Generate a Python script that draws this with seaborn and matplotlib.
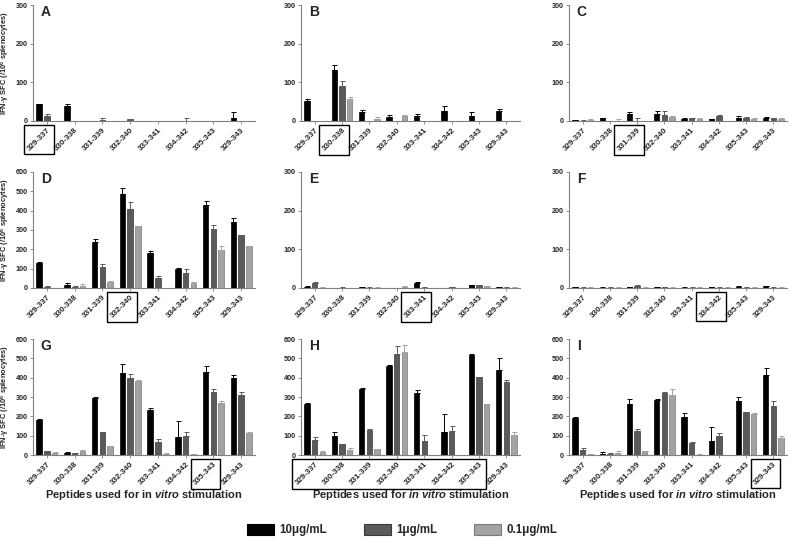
import numpy as np
import pandas as pd
import matplotlib
matplotlib.use("Agg")
import matplotlib.pyplot as plt
from matplotlib.patches import Patch, Rectangle
from matplotlib.transforms import Bbox
import seaborn as sns

peptides = ["329-337", "330-338", "331-339", "332-340", "333-341", "334-342", "335-343", "329-343"]
concs = ["10\u03bcg/mL", "1\u03bcg/mL", "0.1\u03bcg/mL"]
colors = ["#000000", "#5a5a5a", "#a3a3a3"]
edges = ["#000000", "#3a3a3a", "#7a7a7a"]

# mean values per concentration (10, 1, 0.1 ug/mL) and upper error
A_mean = [[43, 40, 0, 0, 0, 0, 0, 9], [13, 0, 2, 4, 0, 1, 0, 0], [0, 0, 0, 0, 0, 0, 0, 0]]
A_err = [[1, 3, 0, 0, 0, 0, 0, 13], [5, 0, 6, 1, 0, 6, 0, 0], [0, 0, 0, 0, 0, 0, 0, 0]]
B_mean = [[51, 132, 23, 11, 13, 27, 14, 25], [0, 91, 0, 0, 0, 0, 0, 0], [0, 57, 5, 14, 0, 0, 0, 0]]
B_err = [[5, 12, 5, 4, 5, 11, 9, 6], [0, 12, 0, 0, 0, 0, 0, 0], [0, 5, 5, 1, 0, 0, 0, 0]]
C_mean = [[2, 7, 19, 18, 4, 4, 7, 8], [1, 0, 1, 15, 7, 13, 9, 7], [3, 1, 0, 10, 5, 1, 6, 5]]
C_err = [[1, 1, 3, 7, 3, 1, 5, 3], [1, 0, 7, 11, 2, 2, 2, 1], [1, 3, 0, 2, 2, 0, 2, 2]]
D_mean = [[130, 14, 240, 485, 182, 100, 428, 340], [7, 5, 110, 408, 50, 78, 305, 272], [0, 8, 33, 320, 0, 28, 195, 215]]
D_err = [[3, 12, 16, 33, 8, 2, 22, 23], [2, 7, 12, 38, 12, 22, 23, 3], [0, 14, 1, 3, 0, 5, 20, 3]]
E_mean = [[3, 0, 2, 0, 13, 0, 8, 2], [14, 1, 1, 0, 1, 2, 8, 1], [1, 0, 1, 3, 0, 0, 5, 1]]
E_err = [[1, 0, 1, 0, 2, 0, 1, 1], [1, 1, 1, 0, 1, 1, 1, 1], [1, 0, 1, 1, 0, 0, 1, 1]]
F_mean = [[2, 1, 2, 2, 1, 2, 3, 4], [1, 1, 4, 2, 1, 1, 1, 1], [1, 1, 1, 1, 1, 1, 1, 1]]
F_err = [[1, 1, 1, 1, 1, 1, 1, 1], [1, 1, 3, 1, 1, 1, 1, 1], [1, 1, 1, 1, 1, 1, 1, 1]]
G_mean = [[182, 12, 293, 425, 233, 95, 430, 398], [20, 8, 118, 396, 68, 100, 325, 310], [10, 20, 47, 385, 5, 3, 270, 113]]
G_err = [[4, 2, 9, 45, 10, 82, 28, 14], [3, 3, 2, 22, 15, 20, 17, 16], [3, 6, 1, 2, 3, 3, 8, 4]]
H_mean = [[262, 98, 342, 460, 322, 118, 515, 442], [80, 57, 128, 522, 72, 122, 403, 377], [15, 27, 32, 532, 0, 0, 262, 103]]
H_err = [[8, 20, 3, 3, 15, 94, 10, 58], [13, 2, 9, 40, 31, 28, 2, 11], [5, 10, 1, 36, 0, 0, 1, 15]]
I_mean = [[192, 5, 263, 285, 196, 75, 278, 413], [26, 6, 123, 320, 62, 97, 220, 253], [3, 10, 20, 312, 2, 1, 213, 88]]
I_err = [[6, 8, 25, 7, 19, 72, 20, 35], [8, 2, 10, 5, 3, 16, 1, 25], [2, 10, 1, 28, 1, 0, 2, 9]]

panels = [
    ("A", A_mean, A_err, 300, [0]),
    ("B", B_mean, B_err, 300, [1]),
    ("C", C_mean, C_err, 300, [2]),
    ("D", D_mean, D_err, 600, [3]),
    ("E", E_mean, E_err, 300, [4]),
    ("F", F_mean, F_err, 300, [5]),
    ("G", G_mean, G_err, 600, [6]),
    ("H", H_mean, H_err, 600, [0, 1, 2, 3, 4, 5, 6]),
    ("I", I_mean, I_err, 600, [7]),
]

sns.set_style("ticks")
plt.rcParams["font.family"] = ["Liberation Sans", "DejaVu Sans"]
plt.rcParams["mathtext.fontset"] = "custom"
plt.rcParams["mathtext.rm"] = "Liberation Sans:bold"
plt.rcParams["mathtext.it"] = "Liberation Sans:italic:bold"

fig = plt.figure(figsize=(7.89, 5.41), dpi=100)
W, H = 789, 541
col_x = [(33, 222), (301, 219), (569, 218)]
row_y = [(5, 121), (172, 288), (339, 455)]

axes = []
for i, (letter, means, errs, ymax, boxed) in enumerate(panels):
    r, c = divmod(i, 3)
    x0, w = col_x[c]
    top, bot = row_y[r]
    ax = fig.add_axes([x0 / W, 1 - bot / H, w / W, (bot - top) / H])
    axes.append(ax)

    df = pd.DataFrame({
        "peptide": peptides * 3,
        "conc": [cn for cn in concs for _ in peptides],
        "sfc": [v for row in means for v in row],
    })
    sns.barplot(data=df, x="peptide", y="sfc", hue="conc", order=peptides, hue_order=concs,
                palette=colors, width=0.84, gap=0.3, errorbar=None, legend=False, ax=ax)

    bar_conts = list(ax.containers)
    for k, cont in enumerate(bar_conts):
        xs, ys, es = [], [], []
        for rect, e in zip(cont.patches, errs[k]):
            rect.set_edgecolor(edges[k])
            rect.set_linewidth(0.5)
            if e > 0:
                xs.append(rect.get_x() + rect.get_width() / 2)
                ys.append(rect.get_height())
                es.append(e)
        if xs:
            ax.errorbar(xs, ys, yerr=[np.zeros(len(es)), es], fmt="none", ecolor=colors[k],
                        elinewidth=0.7, capsize=1.8, capthick=0.7)

    ax.set_xlim(-0.5, 7.5)
    ax.set_ylim(0, ymax)
    ax.set_yticks(np.arange(0, ymax + 1, 100))
    ax.set_xlabel("")
    ax.set_ylabel("")
    for side in ["top", "right"]:
        ax.spines[side].set_visible(False)
    for side in ["left", "bottom"]:
        ax.spines[side].set_color("#808080")
        ax.spines[side].set_linewidth(0.8)
    ax.tick_params(axis="both", length=2.2, width=0.6, color="#808080", pad=1.5)
    ax.tick_params(axis="y", labelsize=5.2)
    ax.tick_params(axis="x", labelsize=5.8, pad=2)
    for lab in ax.get_yticklabels():
        lab.set_fontweight("bold")
    ax.set_xticks(range(len(peptides)))
    ax.set_xticklabels(peptides, rotation=45, ha="right", rotation_mode="anchor", fontweight="bold")
    ax.text(0.035, 1.0, letter, transform=ax.transAxes, fontsize=10, fontweight="bold", va="top")

    if c == 0:
        ax.set_ylabel("IFN-\u03b3 SFC (/10$^6$ splenocytes)", fontsize=5.4, fontweight="bold", labelpad=2.5)
    if r == 2:
        if c == 0:
            xl = "Peptides used for in $\\mathit{vitro}$ stimulation"
        else:
            xl = "Peptides used for $\\mathit{in}$ $\\mathit{vitro}$ stimulation"
        ax.set_xlabel(xl, fontsize=8, fontweight="bold", labelpad=1)

handles = [Patch(facecolor=colors[k], edgecolor="#000000" if k == 0 else edges[k], linewidth=0.8) for k in range(3)]
fig.legend(handles, concs, loc="center", bbox_to_anchor=(0.51, 11 / H), ncol=3, frameon=False,
           prop={"size": 8.3, "weight": "bold"}, handlelength=2.3, handleheight=1.1,
           handletextpad=0.5, columnspacing=3.2)

fig.canvas.draw()
renderer = fig.canvas.get_renderer()
inv = fig.transFigure.inverted()
for ax, (letter, means, errs, ymax, boxed) in zip(axes, panels):
    labs = ax.get_xticklabels()
    bb = Bbox.union([labs[j].get_window_extent(renderer) for j in boxed])
    bb = bb.padded(2)
    (fx0, fy0), (fx1, fy1) = inv.transform([[bb.x0, bb.y0], [bb.x1, bb.y1]])
    fig.add_artist(Rectangle((fx0, fy0), fx1 - fx0, fy1 - fy0, transform=fig.transFigure,
                             fill=False, edgecolor="black", linewidth=1))

fig.savefig("out.png", dpi=100)
